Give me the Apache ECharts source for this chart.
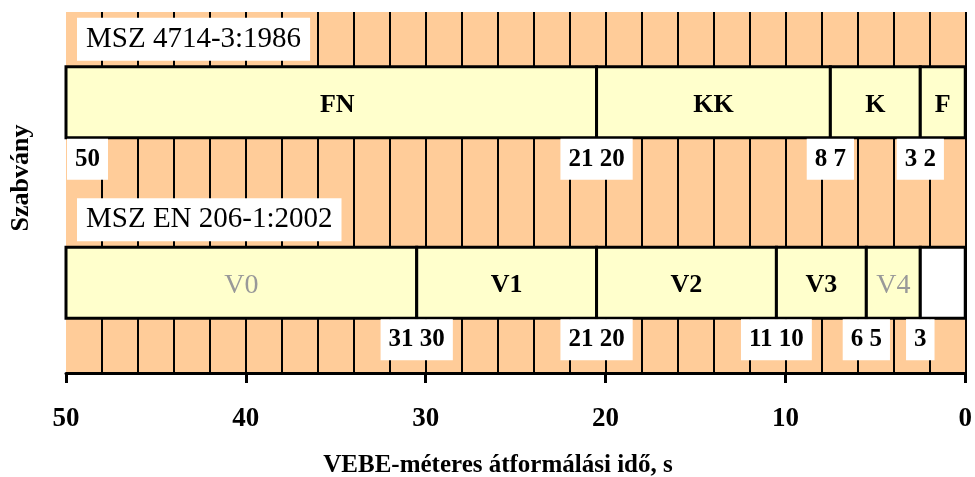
<!DOCTYPE html>
<html>
<head>
<meta charset="utf-8">
<script src="https://cdn.jsdelivr.net/npm/echarts@6/dist/echarts.min.js"></script>
<style>html,body{margin:0;padding:0;background:#fff}#c{width:975px;height:477px}</style>
</head>
<body>
<div id="c"></div>
<script>
// ---- data ----
const categories = ['MSZ 4714-3:1986', 'MSZ EN 206-1:2002'];
const row1Names = ['FN', 'KK', 'K', 'F'];
const row1From  = [50, 20.5, 7.5, 2.5];
const row1To    = [20.5, 7.5, 2.5, 0];
const row2Names = ['V0', 'V1', 'V2', 'V3', 'V4', ''];
const row2From  = [50, 30.5, 20.5, 10.5, 5.5, 2.5];
const row2To    = [30.5, 20.5, 10.5, 5.5, 2.5, 0];
const row1Marks  = ['50', '21 20', '8 7', '3 2'];
const row1MarkAt = [50, 20.5, 7.5, 2.5];
const row2Marks  = ['31 30', '21 20', '11 10', '6 5', '3'];
const row2MarkAt = [30.5, 20.5, 10.5, 5.5, 2.5];
const xMin = 0, xMax = 50, xStep = 10;
const xTitle = 'VEBE-méteres átformálási idő, s';
const yTitle = 'Szabvány';

// ---- build ----
const FONT = '"Liberation Serif", "Times New Roman", serif';
const segData = [], segNames = [];
row1Names.forEach((n, i) => { segData.push([row1From[i], row1To[i], 0]); segNames.push(n); });
row2Names.forEach((n, i) => { segData.push([row2From[i], row2To[i], 1]); segNames.push(n); });
const markData = [], markTexts = [];
row1Marks.forEach((t, i) => { markData.push([row1MarkAt[i], 0]); markTexts.push(t); });
row2Marks.forEach((t, i) => { markData.push([row2MarkAt[i], 1]); markTexts.push(t); });
const titleData = categories.map((c, i) => [xMax, i]);
const grayNames = ['V0', 'V4'];

const chart = echarts.init(document.getElementById('c'), null, {renderer: 'canvas'});
chart.setOption({
  animation: false,
  backgroundColor: '#ffffff',
  grid: {left: 66, right: 9, top: 12, bottom: 104, show: true, backgroundColor: '#FFCC99', borderWidth: 0},
  xAxis: {
    type: 'value', min: xMin, max: xMax, interval: xStep, inverse: true,
    axisLine: {show: true, lineStyle: {color: '#000', width: 3}},
    axisTick: {show: true, length: 10, lineStyle: {color: '#000', width: 3}},
    axisLabel: {color: '#000', fontFamily: FONT, fontWeight: 'bold', fontSize: 27, margin: 33},
    splitLine: {show: true, showMaxLine: false, lineStyle: {color: '#000', width: 2}},
    minorTick: {show: false, splitNumber: 5},
    minorSplitLine: {show: true, lineStyle: {color: '#000', width: 2}}
  },
  yAxis: {
    type: 'category', data: categories, inverse: true,
    axisLine: {show: false}, axisTick: {show: false}, axisLabel: {show: false}, splitLine: {show: false}
  },
  graphic: [
    {type: 'text', x: 498, y: 466, style: {text: xTitle, font: 'bold 25px ' + FONT, fill: '#000', align: 'center', verticalAlign: 'middle'}},
    {type: 'text', x: 21, y: 178, rotation: Math.PI / 2, style: {text: yTitle, font: 'bold 26px ' + FONT, fill: '#000', align: 'center', verticalAlign: 'middle'}}
  ],
  series: [
    {
      type: 'custom', name: 'segments', data: segData, encode: {x: [0, 1], y: 2}, z: 3,
      renderItem(params, api) {
        const a = api.coord([api.value(0), api.value(2)]);
        const b = api.coord([api.value(1), api.value(2)]);
        const h = 71;
        const name = segNames[params.dataIndex];
        const x0 = Math.min(a[0], b[0]), w = Math.abs(b[0] - a[0]);
        const gray = grayNames.indexOf(name) >= 0;
        return {
          type: 'group',
          children: [
            {type: 'rect', shape: {x: x0, y: a[1] - h / 2, width: w, height: h},
             style: {fill: name === '' ? '#FFFFFF' : '#FFFFCC', stroke: '#000', lineWidth: 3}},
            {type: 'text', x: x0 + w / 2 + (name === 'FN' ? 6 : 0), y: a[1] + 3,
             style: {text: name, font: (gray ? 'normal 28px ' : 'bold 26px ') + FONT,
                     fill: gray ? '#999999' : '#000', align: 'center', verticalAlign: 'middle'}}
          ]
        };
      }
    },
    {
      type: 'custom', name: 'marks', data: markData, encode: {x: 0, y: 1}, z: 4,
      renderItem(params, api) {
        const v = api.value(0);
        const p = api.coord([v, api.value(1)]);
        const atEdge = v === xMax;
        return {
          type: 'text', x: atEdge ? p[0] + 1 : p[0], y: p[1] + 57,
          style: {text: markTexts[params.dataIndex], font: 'bold 25px ' + FONT, fill: '#000',
                  align: atEdge ? 'left' : 'center', verticalAlign: 'middle',
                  backgroundColor: '#fff', padding: [8, 8, 8, 8]}
        };
      }
    },
    {
      type: 'custom', name: 'titles', data: titleData, encode: {x: 0, y: 1}, z: 4,
      renderItem(params, api) {
        const p = api.coord([api.value(0), api.value(1)]);
        return {
          type: 'text', x: p[0] + 11, y: p[1] - 63,
          style: {text: categories[params.dataIndex], font: 'normal 29px ' + FONT, fill: '#000',
                  align: 'left', verticalAlign: 'middle', backgroundColor: '#fff', padding: [7, 9, 7, 9]}
        };
      }
    }
  ]
});
</script>
</body>
</html>
